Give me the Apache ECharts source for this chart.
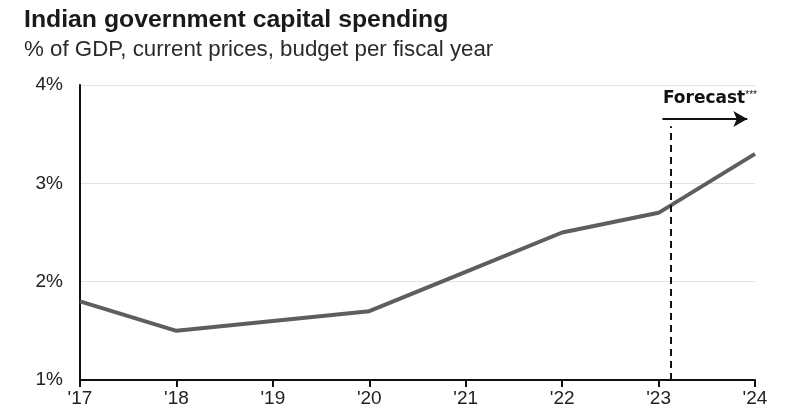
<!DOCTYPE html>
<html><head><meta charset="utf-8">
<script src="https://cdn.jsdelivr.net/npm/echarts@6/dist/echarts.min.js"></script>
<style>html,body{margin:0;padding:0;background:#fff}#c{width:792px;height:417px}</style>
</head><body><div id="c"></div>
<script>
const years = [2017, 2018, 2019, 2020, 2021, 2022, 2023, 2024];
const spending = [1.8, 1.5, 1.6, 1.7, 2.1, 2.5, 2.7, 3.3];
const yTicks = [1, 2, 3, 4];
const forecastStart = 2023.13;
const titleText = 'Indian government capital spending';
const subtitleText = '% of GDP, current prices, budget per fiscal year';

const chart = echarts.init(document.getElementById('c'));
const font = 'Liberation Sans, Arial, sans-serif';
chart.setOption({
  animation: false,
  title: {
    text: titleText, subtext: subtitleText, left: 19, top: 3, itemGap: 6,
    textStyle: {fontFamily: font, fontSize: 24.8, fontWeight: 'bold', color: '#1a1a1a'},
    subtextStyle: {fontFamily: font, fontSize: 22.3, color: '#2a2a2a'}
  },
  grid: {left: 80, right: 37, top: 85, bottom: 37, containLabel: false},
  xAxis: {
    type: 'value', min: years[0], max: years[years.length - 1], interval: 1,
    axisLine: {show: true, lineStyle: {color: '#111', width: 2}},
    axisTick: {show: true, length: 7, lineStyle: {color: '#111', width: 2}},
    splitLine: {show: false},
    axisLabel: {fontFamily: font, fontSize: 19, color: '#222', margin: 9,
      formatter: v => "'" + String(v).slice(2)}
  },
  yAxis: {
    type: 'value', min: yTicks[0], max: yTicks[yTicks.length - 1], interval: 1,
    axisLine: {show: true, lineStyle: {color: '#111', width: 2}},
    axisTick: {show: false},
    splitLine: {show: true, lineStyle: {color: '#e2e2e2', width: 1}},
    axisLabel: {fontFamily: font, fontSize: 19, color: '#222', margin: 17,
      formatter: v => v + '%'}
  },
  series: [{
    type: 'line',
    data: years.map((y, i) => [y, spending[i]]),
    symbol: 'none',
    lineStyle: {color: '#5e5e5e', width: 4},
    markLine: {
      silent: true, symbol: 'none', animation: false,
      label: {show: false},
      data: [
        [{coord: [forecastStart, 1], lineStyle: {type: [7, 5], color: '#111', width: 2}},
         {coord: [forecastStart, 3.58]}],
        [{coord: [2023.04, 3.655], symbol: 'none', lineStyle: {type: 'solid', color: '#111', width: 2}},
         {coord: [2023.92, 3.655], symbol: 'arrow', symbolSize: [12, 14]}]
      ]
    },
    markPoint: {
      silent: true, symbol: 'circle', symbolSize: 1,
      itemStyle: {color: 'rgba(0,0,0,0)'},
      data: [{coord: [2023.04, 3.86],
        label: {show: true, position: 'right', distance: 0,
          formatter: '{a|Forecast}{b|***}',
          rich: {a: {fontFamily: 'DejaVu Sans', fontSize: 17, fontWeight: 'bold', color: '#111'},
                 b: {fontFamily: font, fontSize: 10, color: '#111', verticalAlign: 'top', padding: [0, 0, 8, 0]}}}}]
    }
  }]
});
</script></body></html>
